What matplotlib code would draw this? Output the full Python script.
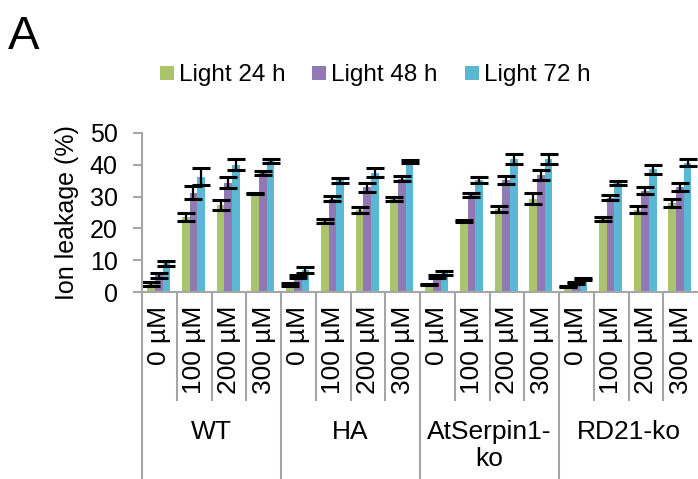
import numpy as np
import matplotlib.pyplot as plt
from matplotlib.lines import Line2D

plt.rcParams['font.family'] = ['Liberation Sans', 'DejaVu Sans']

groups = ['WT', 'HA', 'AtSerpin1-\nko', 'RD21-ko']
doses = ['0 µM', '100 µM', '200 µM', '300 µM']

light24 = [2.4, 23.6, 27.3, 31.0, 2.4, 22.3, 25.7, 29.2, 2.4, 22.3, 26.2, 29.4, 1.8, 23.0, 25.9, 28.0]
err24 = [0.6, 1.3, 1.5, 0.2, 0.5, 0.5, 0.9, 0.7, 0.2, 0.4, 1.0, 1.6, 0.2, 0.6, 1.1, 1.3]
light48 = [5.3, 31.2, 34.4, 37.3, 4.8, 29.4, 32.9, 35.6, 4.8, 30.5, 35.2, 36.8, 2.7, 29.7, 31.8, 33.1]
err48 = [0.8, 2.1, 1.8, 0.6, 0.5, 0.8, 1.3, 0.8, 0.4, 0.5, 1.3, 1.6, 0.3, 0.8, 1.1, 1.3]
light72 = [9.1, 36.3, 40.0, 41.2, 7.0, 35.2, 37.5, 41.0, 6.1, 35.2, 41.8, 41.8, 4.0, 34.2, 38.6, 40.7]
err72 = [0.8, 2.6, 1.7, 0.5, 1.0, 0.8, 1.4, 0.5, 0.6, 0.9, 1.7, 1.7, 0.3, 0.6, 1.4, 1.2]

series = [('Light 24 h', light24, err24, '#AAC46E'),
          ('Light 48 h', light48, err48, '#917AB4'),
          ('Light 72 h', light72, err72, '#5BB8D2')]

W, H = 698, 479
fig = plt.figure(figsize=(W / 100, H / 100), dpi=100)
ax = fig.add_axes([142 / W, 187 / H, 556 / W, 159 / H])

x = np.arange(len(light24))
w = 0.22
for k, (name, vals, errs, col) in enumerate(series):
    ax.bar(x + (k - 1) * w - 0.02, vals, w, color=col, yerr=errs,
           error_kw=dict(ecolor='black', elinewidth=1.6, capsize=6.3, capthick=2.2))

ax.set_xlim(-0.5, 15.5)
ax.set_ylim(0, 50)
ax.set_yticks(range(0, 51, 10))
ax.set_xticks([])
grey = '#A6A6A6'
for s in ['top', 'right']:
    ax.spines[s].set_visible(False)
for s in ['left', 'bottom']:
    ax.spines[s].set_color(grey)
    ax.spines[s].set_linewidth(1.5)
ax.tick_params(axis='y', length=6.5, width=1.5, color=grey, pad=11, labelsize=18)

# category / group separators under the axis
trans = ax.get_xaxis_transform()
ax_h = 159.0
y_short = (292 - 400) / ax_h
y_long = (292 - 479) / ax_h
for i in range(16):
    ylow = y_long if i % 4 == 0 else y_short
    ax.plot([i - 0.5, i - 0.5], [0, ylow], color=grey, lw=1.5, transform=trans, clip_on=False)

for i in range(16):
    ax.text(i, (292 - 306) / ax_h, doses[i % 4], rotation=90, ha='center', va='top',
            fontsize=19, transform=trans)
for g, name in enumerate(groups):
    ax.text(g * 4 + 1.5, (292 - 420) / ax_h, name, ha='center', va='top',
            fontsize=19, linespacing=1.15, transform=trans)

handles = [Line2D([], [], marker='s', ls='none', markersize=9.4, markeredgewidth=0,
                  markerfacecolor=c) for _, _, _, c in series]
fig.legend(handles, [s[0] for s in series], loc='center', bbox_to_anchor=(375 / W, 1 - 75 / H),
           ncol=3, frameon=False, fontsize=17.5, handlelength=0.6, handletextpad=0.2,
           columnspacing=1.1, borderaxespad=0)

fig.text(67 / W, 1 - 213 / H, 'Ion leakage (%)', rotation=90, ha='center', va='center', fontsize=18)
fig.text(8 / W, 1 - 49 / H, 'A', fontsize=34, ha='left', va='baseline')

fig.savefig('out.png', dpi=100)
